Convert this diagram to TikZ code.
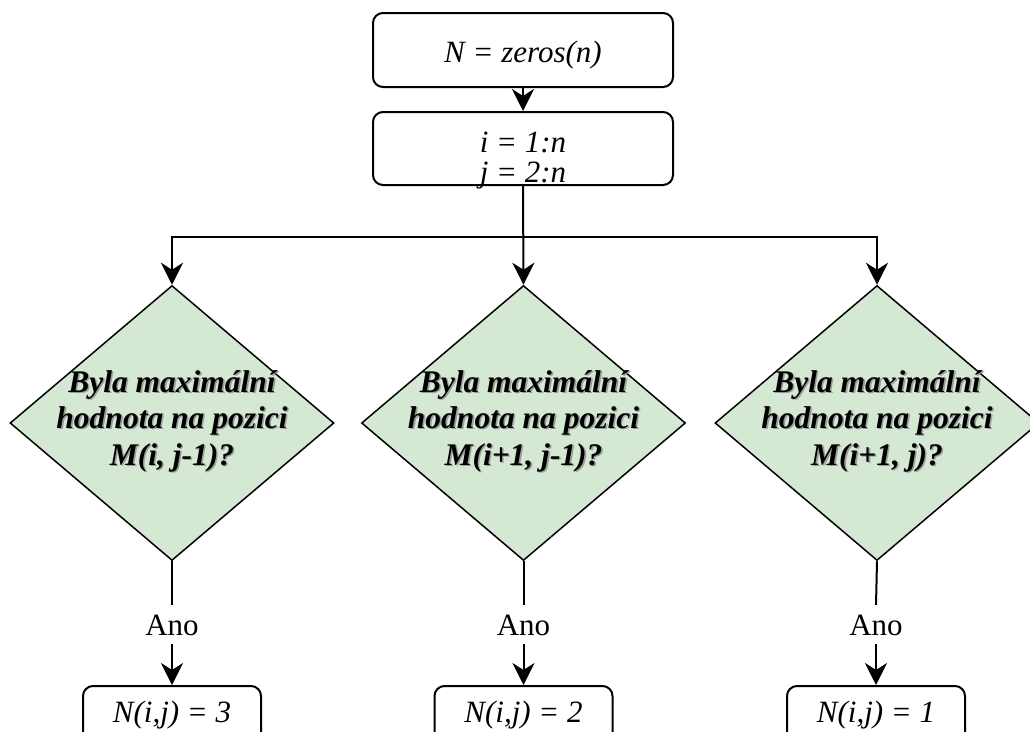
\documentclass[tikz,border=0pt]{standalone}
\usepackage{fontspec}
\setmainfont{Liberation Serif}
\usetikzlibrary{arrows.meta,shapes.geometric,calc}
\definecolor{dgreen}{HTML}{D5E8D4}
\newcommand{\qline}[3]{%
  \node[qtxt, text=black!45, opacity=0.8] (#1s) at ($(#2)+(1.6,1.6)$) {#3};
  \node[qtxt] (#1) at (#2) {#3};}
\begin{document}
\begin{tikzpicture}[x=1pt,y=-1pt,
  box/.style={draw=black, line width=2pt, rounded corners=10pt, minimum width=300pt, inner sep=0pt},
  resbox/.style={draw=black, line width=2pt, rounded corners=10pt, minimum width=178pt, minimum height=90pt, inner sep=0pt, anchor=north},
  decision/.style={diamond, draw=black, fill=dgreen, line width=1.5pt, minimum width=324pt, minimum height=275pt, inner sep=0pt},
  txt/.style={font=\fontsize{31}{37}\selectfont\itshape, inner sep=0pt, anchor=base},
  qtxt/.style={font=\fontsize{31.5}{37}\selectfont\bfseries\itshape, inner sep=0pt, anchor=base},
  anotxt/.style={font=\fontsize{31}{37}\selectfont, inner xsep=0pt, inner ysep=9pt, text height=21pt, text depth=0pt, anchor=base},
  conn/.style={line width=2pt, draw=black},
  arr/.style={conn, -{Stealth[length=22pt, width=22pt, inset=7pt]}}
]
\useasboundingbox (0,0) rectangle (1030,731);
\clip (0,0) rectangle (1030,731);
\fill[white] (0,0) rectangle (1030,731);

% top boxes
\node[box, minimum height=74pt] (top) at (523,50) {};
\node[txt] (toptxt) at (523,62) {N = zeros(n)};
\node[box, minimum height=73pt] (loop) at (523,148.5) {};
\node[txt] (looptxt1) at (523,152) {i = 1:n};
\node[txt] (looptxt2) at (523,182) {j = 2:n};

% decisions
\node[decision] (d1) at (172,423) {};
\node[decision] (d2) at (523.5,423) {};
\node[decision] (d3) at (877,423) {};

\qline{q1a}{172,392}{Byla maximální}
\qline{q1b}{172,428}{hodnota na pozici}
\qline{q1c}{172,465}{M(i, j-1)?}
\qline{q2a}{523.5,392}{Byla maximální}
\qline{q2b}{523.5,428}{hodnota na pozici}
\qline{q2c}{523.5,465}{M(i+1, j-1)?}
\qline{q3a}{877,392}{Byla maximální}
\qline{q3b}{877,428}{hodnota na pozici}
\qline{q3c}{877,465}{M(i+1, j)?}

% Ano labels
\node[anotxt] (a1) at (172,635) {Ano};
\node[anotxt] (a2) at (523.5,635) {Ano};
\node[anotxt] (a3) at (876,635) {Ano};

% result boxes
\node[resbox] (r1) at (172,685) {};
\node[resbox] (r2) at (523.5,685) {};
\node[resbox] (r3) at (876,685) {};
\node[txt] (r1t) at (172,722) {N(i,j) = 3};
\node[txt] (r2t) at (523.5,722) {N(i,j) = 2};
\node[txt] (r3t) at (876,722) {N(i,j) = 1};

% connectors
\coordinate (junc) at (523.5,237);
\draw[arr] (top.south) -- (loop.north);
\draw[arr] (loop.south) -- (d2.north);
\draw[arr] (junc) -| (d1.north);
\draw[arr] (junc) -| (d3.north);

\draw[conn] (d1.south) -- (a1.north);
\draw[conn] (d2.south) -- (a2.north);
\draw[conn] (d3.south) -- (a3.north);
\draw[arr] (a1.south) -- (r1.north);
\draw[arr] (a2.south) -- (r2.north);
\draw[arr] (a3.south) -- (r3.north);
\end{tikzpicture}
\end{document}
